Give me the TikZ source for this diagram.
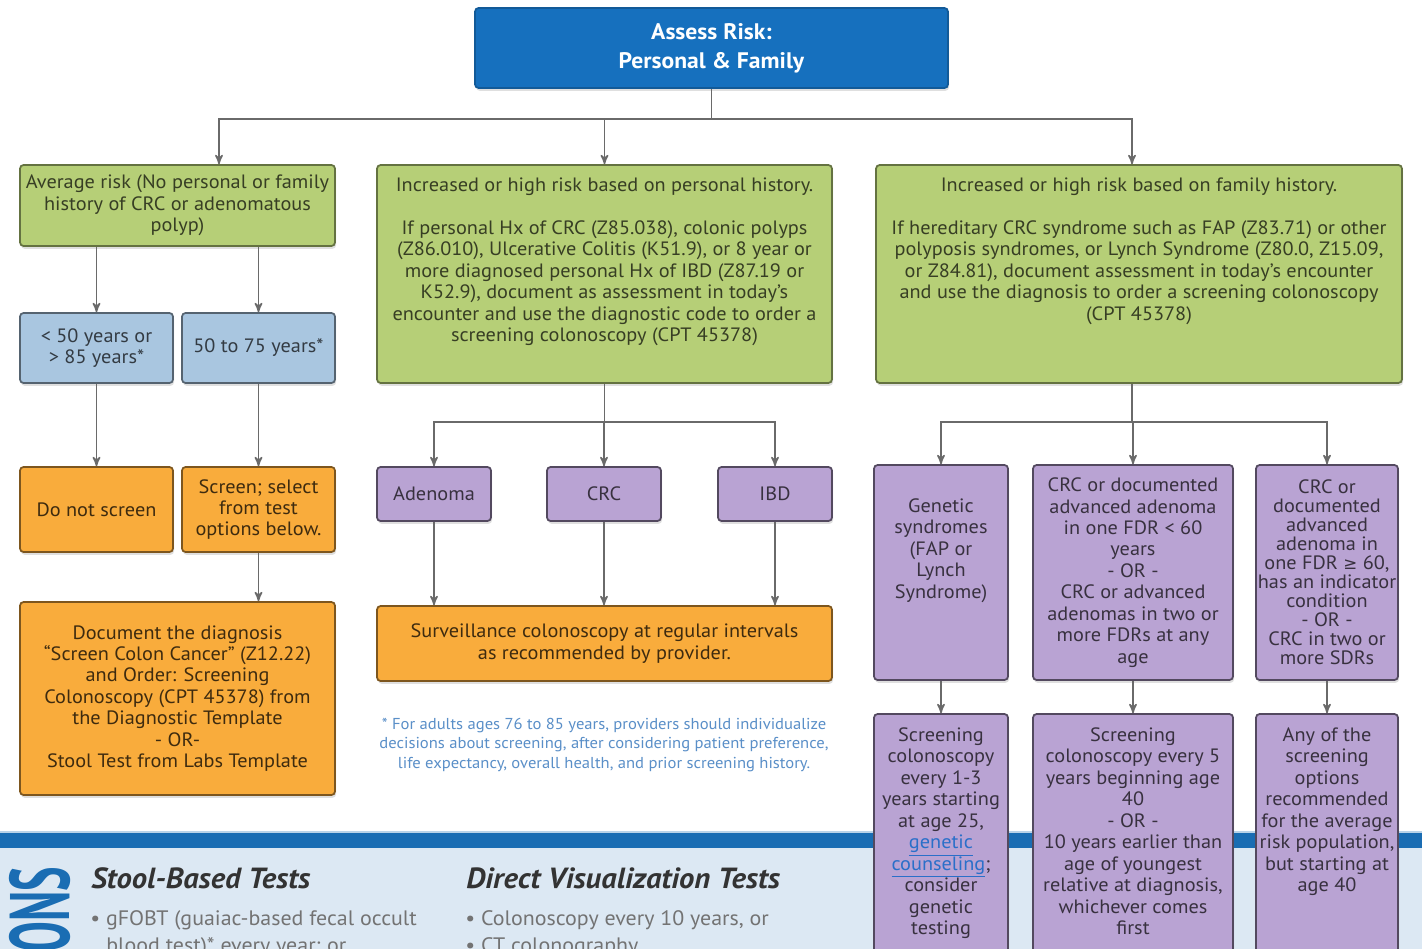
\documentclass[tikz,border=0pt]{standalone}
\usepackage{fontspec}
\setmainfont{PT Sans}[FakeStretch=1.05]
\newfontfamily\symfont{DejaVu Sans}
\usetikzlibrary{arrows,positioning,shadows}

\definecolor{riskblue}{HTML}{1670BE}
\definecolor{boxgreen}{HTML}{B6CF77}
\definecolor{boxblue}{HTML}{A9C6E0}
\definecolor{boxorange}{HTML}{F9AC3C}
\definecolor{boxpurple}{HTML}{B9A3D3}
\definecolor{bandblue}{HTML}{1A6DB3}
\definecolor{bandback}{HTML}{DCE8F3}
\definecolor{notecol}{HTML}{5A8FC8}
\definecolor{linkcol}{HTML}{2A6FC9}
\definecolor{linegray}{HTML}{6A6A6A}

\begin{document}
\begin{tikzpicture}[x=0.02cm,y=-0.02cm,->,>=stealth',shorten >=0pt,
        color=linegray,line width=0.9pt,
        every node/.style={font=\fontsize{11}{12.2}\selectfont,align=center,inner sep=2pt},
        box/.style={rounded corners=2pt,line width=1pt,
            drop shadow={shadow xshift=0.6pt,shadow yshift=-1.6pt,opacity=0.25}},
        riskbox/.style={box,fill=riskblue,draw=riskblue!80!black,text=white,
            font=\fontsize{12.8}{16.4}\selectfont\bfseries},
        greenbox/.style={box,fill=boxgreen,draw=boxgreen!55!black,text=boxgreen!30!black},
        bluebox/.style={box,fill=boxblue,draw=boxblue!50!black,text=boxblue!30!black},
        orangebox/.style={box,fill=boxorange,draw=boxorange!50!black,text=boxorange!25!black},
        purplebox/.style={box,fill=boxpurple,draw=boxpurple!45!black,text=boxpurple!30!black,inner xsep=0.5pt},
        boxtext/.style={anchor=north,inner sep=0pt},
        heading/.style={anchor=base west,font=\fontsize{16.6}{18}\selectfont\bfseries\itshape,text=black!80},
        bullet/.style={anchor=base west,font=\fontsize{11.9}{13}\selectfont,text=black!55}]

    \useasboundingbox (0,0) rectangle (1422,949);
    \clip (0,0) rectangle (1422,949);
    \fill[white] (0,0) rectangle (1422,949);

    % options band at the bottom
    \fill[bandback] (0,848) rectangle (1422,949);
    \fill[bandblue] (0,833) rectangle (1422,848);
    \fill[bandblue!30!white] (0,831) rectangle (1422,833);

    \node[riskbox,minimum width=9.46cm,minimum height=1.6cm] (risk) at (711.5,48) {Assess Risk:\\Personal \& Family};

    % average risk column
    \node[greenbox,minimum width=6.3cm,minimum height=1.62cm,inner xsep=1pt] (avg) at (177.5,205.5)
        {Average risk (No personal or family\\history of CRC or adenomatous\\polyp)};
    \node[bluebox,minimum width=3.06cm,minimum height=1.4cm] (young) at (96.5,348) {< 50 years or\\> 85 years*};
    \node[bluebox,minimum width=3.06cm,minimum height=1.4cm] (mid) at (258.5,348) {50 to 75 years*};
    \node[orangebox,minimum width=3.06cm,minimum height=1.7cm] (noscr) at (96.5,509.5) {Do not screen};
    \node[orangebox,minimum width=3.06cm,minimum height=1.7cm] (scr) at (258.5,509.5) {Screen; select\\from test\\options below.};
    \node[orangebox,minimum width=6.3cm,minimum height=3.86cm] (doc) at (177.5,698.5)
        {Document the diagnosis\\“Screen Colon Cancer” (Z12.22)\\and Order: Screening\\Colonoscopy (CPT 45378) from\\the Diagnostic Template\\- OR-\\Stool Test from Labs Template};

    % personal history column
    \node[greenbox,minimum width=9.1cm,minimum height=4.36cm] (pers) at (604.5,274) {};
    \node[boxtext,text=boxgreen!30!black] (perstext) at (604.5,177)
        {Increased or high risk based on personal history.\\[12.2pt]
         If personal Hx of CRC (Z85.038), colonic polyps\\(Z86.010), Ulcerative Colitis (K51.9), or 8 year or\\
         more diagnosed personal Hx of IBD (Z87.19 or\\K52.9), document as assessment in today’s\\
         encounter and use the diagnostic code to order a\\screening colonoscopy (CPT 45378)};
    \node[purplebox,minimum width=2.28cm,minimum height=1.08cm] (aden) at (434,494) {Adenoma};
    \node[purplebox,minimum width=2.28cm,minimum height=1.08cm] (crc) at (604,494) {CRC};
    \node[purplebox,minimum width=2.28cm,minimum height=1.08cm] (ibd) at (775,494) {IBD};
    \node[orangebox,minimum width=9.1cm,minimum height=1.5cm] (surv) at (604.5,643.5)
        {Surveillance colonoscopy at regular intervals\\as recommended by provider.};
    \node[text=notecol,font=\fontsize{9}{11.3}\selectfont] (note) at (604,745)
        {* For adults ages 76 to 85 years, providers should individualize\\
         decisions about screening, after considering patient preference,\\
         life expectancy, overall health, and prior screening history.};

    % family history column
    \node[greenbox,minimum width=10.52cm,minimum height=4.36cm] (fam) at (1139,274) {};
    \node[boxtext,text=boxgreen!30!black] (famtext) at (1139,177)
        {Increased or high risk based on family history.\\[12.2pt]
         If hereditary CRC syndrome such as FAP (Z83.71) or other\\polyposis syndromes, or Lynch Syndrome (Z80.0, Z15.09,\\
         or Z84.81), document assessment in today’s encounter\\and use the diagnosis to order a screening colonoscopy\\(CPT 45378)};
    \node[purplebox,minimum width=2.68cm,minimum height=4.3cm] (gen) at (941,572.5) {};
    \node[boxtext,text=boxpurple!30!black] (gentext) at (941,498)
        {Genetic\\syndromes\\(FAP or\\Lynch\\Syndrome)};
    \node[purplebox,minimum width=4cm,minimum height=4.3cm] (fdr) at (1133,572.5)
        {CRC or documented\\advanced adenoma\\in one FDR < 60\\years\\- OR -\\CRC or advanced\\adenomas in two or\\more FDRs at any\\age};
    \node[purplebox,minimum width=2.84cm,minimum height=4.3cm,font=\fontsize{11}{10.8}\selectfont] (sdr) at (1327,572.5)
        {CRC or\\documented\\advanced\\adenoma in\\one FDR {\symfont\fontsize{9.5}{10}\selectfont ≥} 60,\\has an indicator\\condition\\- OR -\\CRC in two or\\more SDRs};
    \node[purplebox,minimum width=2.68cm,minimum height=4.92cm] (scgen) at (941,837) {};
    \node[boxtext,text=boxpurple!30!black] (scgentext) at (941,727)
        {Screening\\colonoscopy\\every 1-3\\years starting\\at age 25,\\
         \textcolor{linkcol}{\underline{genetic}}\\\textcolor{linkcol}{\underline{counseling}};\\consider\\genetic\\testing};
    \node[purplebox,minimum width=4cm,minimum height=4.92cm] (scfdr) at (1133,837) {};
    \node[boxtext,text=boxpurple!30!black] (scfdrtext) at (1133,727)
        {Screening\\colonoscopy every 5\\years beginning age\\40\\- OR -\\10 years earlier than\\age of youngest\\relative at diagnosis,\\whichever comes\\first};
    \node[purplebox,minimum width=2.84cm,minimum height=4.92cm] (scsdr) at (1327,837) {};
    \node[boxtext,text=boxpurple!30!black] (scsdrtext) at (1327,727)
        {Any of the\\screening\\options\\recommended\\for the average\\risk population,\\but starting at\\age 40};

    % options band text
    \node[rotate=90,anchor=east,inner sep=0pt,text=bandblue] (options) at (40,866)
        {\scalebox{0.52}[1]{\fontsize{48}{48}\selectfont\bfseries OPTIONS}};
    \node[heading] (stool) at (87,888) {Stool-Based Tests};
    \node[bullet] (stool1) at (86,925) {• gFOBT (guaiac-based fecal occult};
    \node[bullet] (stool2) at (102,952) {blood test)* every year; or};
    \node[heading] (direct) at (462,888) {Direct Visualization Tests};
    \node[bullet] (direct1) at (461,925) {• Colonoscopy every 10 years, or};
    \node[bullet] (direct2) at (461,952) {• CT colonography};

    % connectors
    \draw (risk.south) -- ++(0,30) -| ([xshift=0.83cm]avg.north);
    \draw (risk.south) -- ++(0,30) -| (pers.north);
    \draw (risk.south) -- ++(0,30) -| ([xshift=-0.14cm]fam.north);

    \draw (avg.south -| young.north) -- (young.north);
    \draw (avg.south -| mid.north) -- (mid.north);
    \draw (young.south) -- (noscr.north);
    \draw (mid.south) -- (scr.north);
    \draw (scr.south) -- (scr.south |- doc.north);

    \draw (pers.south) -- ++(0,38) -| (aden.north);
    \draw (pers.south) -- ++(0,38) -| (crc.north);
    \draw (pers.south) -- ++(0,38) -| (ibd.north);
    \draw (aden.south) -- (aden.south |- surv.north);
    \draw (crc.south) -- (crc.south |- surv.north);
    \draw (ibd.south) -- (ibd.south |- surv.north);

    \draw ([xshift=-0.14cm]fam.south) -- ++(0,38) -| (gen.north);
    \draw ([xshift=-0.14cm]fam.south) -- ++(0,38) -| (fdr.north);
    \draw ([xshift=-0.14cm]fam.south) -- ++(0,38) -| (sdr.north);
    \draw (gen.south) -- (scgen.north);
    \draw (fdr.south) -- (scfdr.north);
    \draw (sdr.south) -- (scsdr.north);

\end{tikzpicture}
\end{document}
